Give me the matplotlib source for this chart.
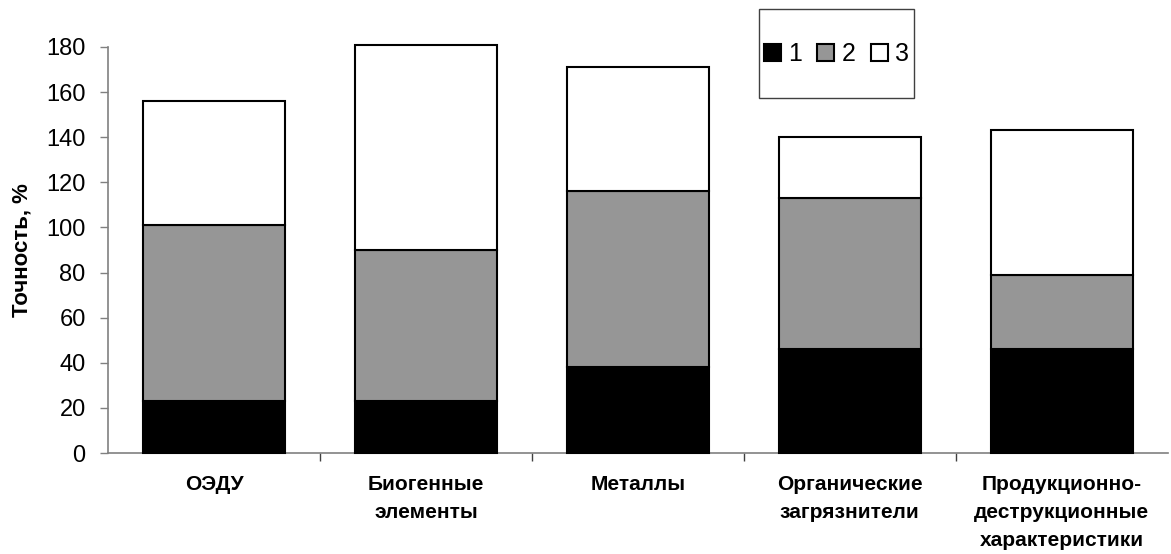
import matplotlib
matplotlib.use('Agg')
import matplotlib.pyplot as plt
import matplotlib.patches as mpatches
import numpy as np

categories = ['ОЭДУ', 'Биогенные\nэлементы', 'Металлы', 'Органические\nзагрязнители',
              'Продукционно-\nдеструкционные\nхарактеристики']
part1 = [23, 23, 38, 46, 46]
part2 = [78, 67, 78, 67, 33]
part3 = [55, 91, 55, 27, 64]
series_names = ['1', '2', '3']
colors = ['#000000', '#969696', '#ffffff']

plt.rcParams['font.family'] = ['Liberation Sans', 'DejaVu Sans']

fig = plt.figure(figsize=(11.71, 5.54), dpi=100)
ax = fig.add_axes([0.0922, 0.1823, 0.905, 0.7329])

x = np.arange(len(categories))
bottom = np.zeros(len(categories))
for vals, name, col in zip([part1, part2, part3], series_names, colors):
    ax.bar(x, vals, width=0.67, bottom=bottom, color=col, edgecolor='black',
           linewidth=1.5, label=name, clip_on=False, zorder=3)
    bottom += np.array(vals)

ax.set_xlim(-0.5, len(categories) - 0.5)
ax.set_ylim(0, 180)
ax.set_yticks(range(0, 181, 20))
ax.tick_params(axis='y', labelsize=17, length=6, width=1, color='#808080', pad=10)

ax.set_xticks(x)
ax.set_xticklabels(categories, fontsize=15, fontweight='bold', linespacing=1.6)
ax.tick_params(axis='x', which='major', length=0, pad=16)
ax.set_xticks(np.arange(0.5, len(categories) - 0.5, 1), minor=True)
ax.tick_params(axis='x', which='minor', length=6, width=1, color='#404040')

for s in ['top', 'right']:
    ax.spines[s].set_visible(False)
for s in ['left', 'bottom']:
    ax.spines[s].set_color('#808080')
    ax.spines[s].set_linewidth(1.2)

ax.set_ylabel('Точность, %', fontsize=16, fontweight='bold')
ax.yaxis.set_label_coords(-0.071, 0.5)

# legend frame
frame = mpatches.Rectangle((759 / 1171, 1 - 98 / 554), 155 / 1171, 89 / 554,
                           transform=fig.transFigure, facecolor='white',
                           edgecolor='#404040', linewidth=1)
fig.patches.append(frame)
fig.legend(loc='center', bbox_to_anchor=(836.5 / 1171, 1 - 54 / 554), ncol=3,
           frameon=False, fontsize=18, handlelength=0.68, handleheight=0.68,
           handletextpad=0.3, columnspacing=0.6, borderpad=0)

fig.savefig('out.png', dpi=100)
